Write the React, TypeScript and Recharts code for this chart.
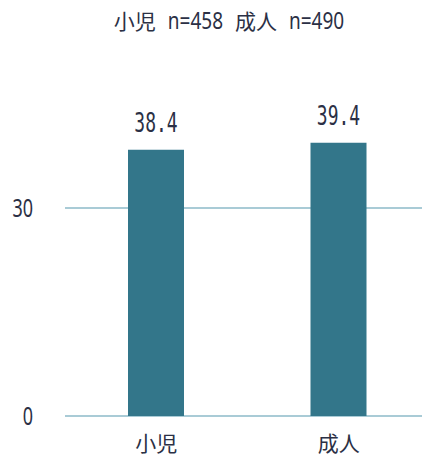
import React from 'react';
import { BarChart, Bar, XAxis, YAxis, CartesianGrid, LabelList } from 'recharts';

const categories = ['小児', '成人'];
const values = [38.4, 39.4];
const yTicks = [0, 30];
const titleParts = [
  { text: '小児', cjk: true },
  { text: 'n=458', cjk: false },
  { text: '成人', cjk: true },
  { text: 'n=490', cjk: false },
];

const data = categories.map((c, i) => ({ name: c, value: values[i] }));

const FONT = '"Noto Sans CJK JP", "Noto Sans", sans-serif';
const LATIN = '"Noto Sans", sans-serif';
const TEXT = '#2b3045';

const YTick = (props: any) => {
  const { x, y, payload } = props;
  return (
    <g transform={`translate(${x},${y})`}>
      <text textAnchor="end" transform="scale(1,1.45)" dy="0.355em" fill={TEXT}
        style={{ fontFamily: LATIN, fontSize: 18 }}>{payload.value}</text>
    </g>
  );
};

const ValueLabel = (props: any) => {
  const { x, y, width, value } = props;
  const cx = Number(x) + Number(width) / 2;
  const by = Number(y) - 18;
  return (
    <g transform={`translate(${cx},${by})`}>
      <text textAnchor="middle" transform="scale(1,1.45)" fill={TEXT}
        style={{ fontFamily: '"DejaVu Sans Mono", monospace', fontSize: 18 }}>{Number(value).toFixed(1)}</text>
    </g>
  );
};

export default function App() {
  return (
    <div style={{ position: 'absolute', left: 0, top: 0, width: 422, height: 457, overflow: 'hidden', background: '#fff' }}>
      <div style={{ position: 'absolute', left: 0, top: 5, width: 458, display: 'flex', justifyContent: 'center', alignItems: 'center', gap: 12, color: TEXT, height: 30 }}>
        {titleParts.map((p, i) => p.cjk ? (
          <span key={i} style={{ fontFamily: FONT, fontSize: 21, lineHeight: '30px' }}>{p.text}</span>
        ) : (
          <span key={i} style={{ fontFamily: LATIN, fontSize: 19, lineHeight: '30px', display: 'inline-block', transform: 'scaleY(1.25)' }}>{p.text}</span>
        ))}
      </div>
      <BarChart width={430} height={457} data={data} margin={{ top: 104, right: 0, left: 0, bottom: 11 }}>
        <CartesianGrid vertical={false} stroke="#8dbac9" strokeWidth={1.5} horizontalValues={yTicks} />
        <XAxis dataKey="name" axisLine={false} tickLine={false} tickMargin={14}
          tick={{ fill: TEXT, fontSize: 21, fontFamily: FONT }} />
        <YAxis domain={[0, 45]} ticks={yTicks} width={65} axisLine={false} tickLine={false} tickMargin={26}
          tick={<YTick />} />
        <Bar dataKey="value" fill="#33768a" barSize={56} isAnimationActive={false}>
          <LabelList dataKey="value" content={<ValueLabel />} />
        </Bar>
      </BarChart>
    </div>
  );
}
